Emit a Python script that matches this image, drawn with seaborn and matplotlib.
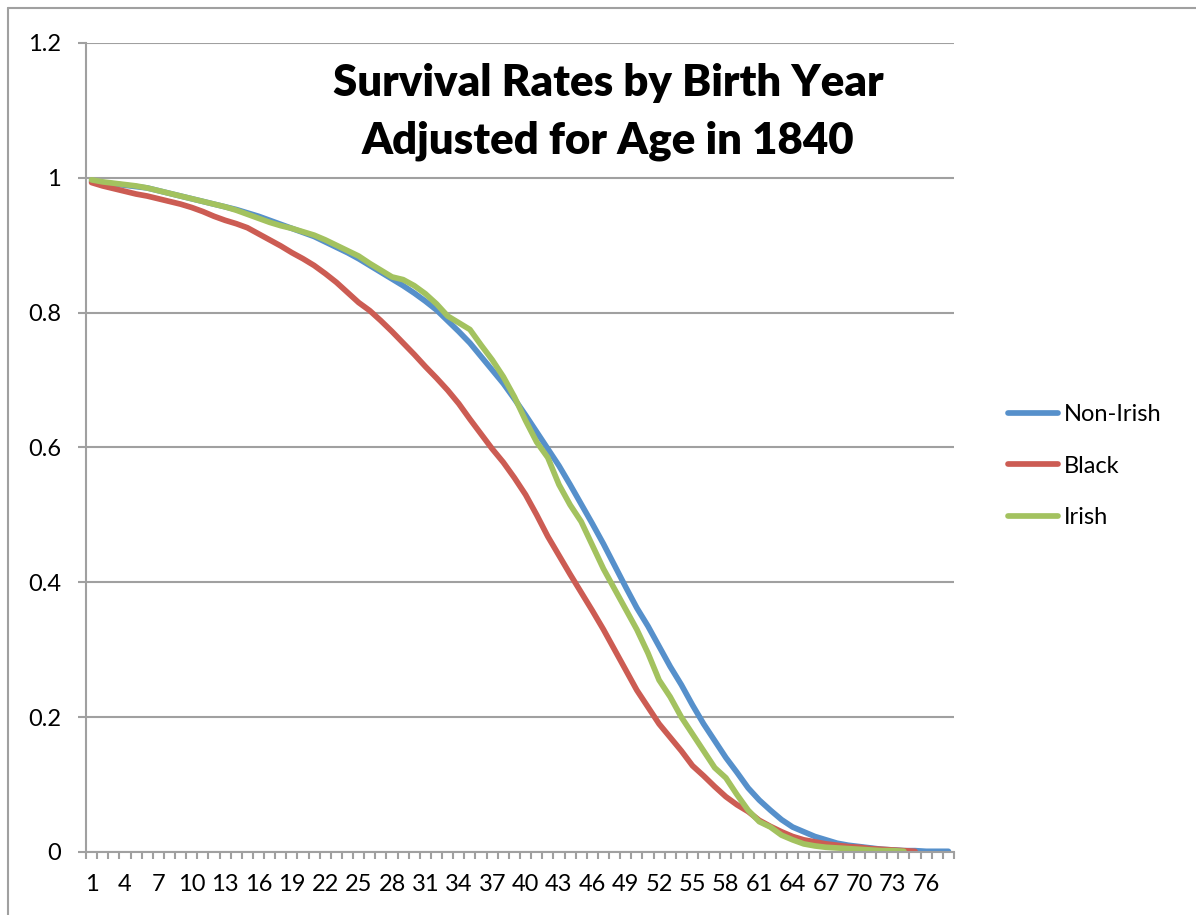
import numpy as np
import pandas as pd
import matplotlib
matplotlib.use("Agg")
import matplotlib.pyplot as plt
import seaborn as sns
from matplotlib.lines import Line2D

# Birth-year categories 1..78
years = list(range(1, 79))

non_irish = [0.995, 0.993, 0.991, 0.989, 0.987, 0.985, 0.981, 0.977, 0.973, 0.969,
             0.965, 0.961, 0.957, 0.953, 0.948, 0.943, 0.937, 0.931, 0.925, 0.919,
             0.913, 0.905, 0.897, 0.889, 0.880, 0.870, 0.860, 0.850, 0.840, 0.829,
             0.817, 0.804, 0.788, 0.772, 0.755, 0.735, 0.715, 0.695, 0.672, 0.648,
             0.623, 0.598, 0.573, 0.545, 0.516, 0.487, 0.457, 0.425, 0.393, 0.362,
             0.335, 0.305, 0.275, 0.248, 0.218, 0.190, 0.165, 0.140, 0.118, 0.095,
             0.077, 0.062, 0.048, 0.037, 0.030, 0.023, 0.018, 0.013, 0.010, 0.008,
             0.006, 0.004, 0.003, 0.002, 0.002, 0.001, 0.001, 0.001]

black = [0.993, 0.988, 0.984, 0.980, 0.976, 0.973, 0.969, 0.965, 0.961, 0.956,
         0.950, 0.943, 0.937, 0.932, 0.926, 0.917, 0.908, 0.899, 0.889, 0.880,
         0.870, 0.858, 0.845, 0.830, 0.815, 0.803, 0.788, 0.772, 0.755, 0.738,
         0.720, 0.703, 0.685, 0.665, 0.642, 0.620, 0.598, 0.578, 0.555, 0.530,
         0.500, 0.468, 0.440, 0.412, 0.385, 0.358, 0.330, 0.300, 0.270, 0.240,
         0.215, 0.190, 0.170, 0.150, 0.128, 0.113, 0.097, 0.082, 0.070, 0.060,
         0.047, 0.038, 0.030, 0.023, 0.018, 0.015, 0.012, 0.010, 0.008, 0.007,
         0.005, 0.004, 0.003, 0.002, 0.001, np.nan, np.nan, np.nan]

irish = [0.997, 0.994, 0.992, 0.990, 0.988, 0.985, 0.981, 0.977, 0.973, 0.969,
         0.965, 0.961, 0.957, 0.952, 0.946, 0.940, 0.934, 0.929, 0.925, 0.920,
         0.915, 0.908, 0.900, 0.892, 0.884, 0.873, 0.863, 0.853, 0.849, 0.840,
         0.828, 0.813, 0.795, 0.785, 0.775, 0.752, 0.730, 0.705, 0.675, 0.640,
         0.608, 0.585, 0.545, 0.515, 0.490, 0.455, 0.420, 0.390, 0.360, 0.330,
         0.295, 0.255, 0.230, 0.200, 0.175, 0.150, 0.125, 0.110, 0.085, 0.062,
         0.045, 0.037, 0.025, 0.018, 0.012, 0.009, 0.007, 0.006, 0.005, 0.004,
         0.003, 0.002, 0.002, 0.001, np.nan, np.nan, np.nan, np.nan]

series_names = ["Non-Irish", "Black", "Irish"]
colors = ["#5690CB", "#CC5C53", "#A3C25F"]

y_ticks = [0, 0.2, 0.4, 0.6, 0.8, 1.0, 1.2]
y_labels = ["0", "0.2", "0.4", "0.6", "0.8", "1", "1.2"]
x_label_ticks = list(range(1, 77, 3))

title = "Survival Rates by Birth Year\nAdjusted for Age in 1840"

W, H = 1196, 915
GRAY = "#a0a0a0"


def main():
    sns.set_style("white")
    plt.rcParams['font.family'] = ['Lato', 'DejaVu Sans']
    plt.rcParams['text.color'] = 'black'
    plt.rcParams['xtick.color'] = 'black'
    plt.rcParams['ytick.color'] = 'black'

    df = pd.DataFrame({"year": years, "Non-Irish": non_irish,
                       "Black": black, "Irish": irish})
    long_df = df.melt(id_vars="year", var_name="group", value_name="rate").dropna()

    fig = plt.figure(figsize=(W / 100, H / 100), dpi=100)
    ax = fig.add_axes([86 / W, 1 - 852 / H, (954 - 86) / W, (852 - 43) / H])

    sns.lineplot(data=long_df, x="year", y="rate", hue="group",
                 hue_order=series_names, palette=colors, linewidth=4.1,
                 solid_capstyle="round", ax=ax, legend=False)

    ax.set_xlim(0.5, 78.5)
    ax.set_ylim(0, 1.2)
    ax.set_xlabel("")
    ax.set_ylabel("")

    # y axis: gridlines + outside ticks
    ax.set_yticks(y_ticks)
    ax.set_yticklabels(y_labels)
    ax.yaxis.grid(True, color=GRAY, linewidth=1.5)
    ax.set_axisbelow(True)
    ax.tick_params(axis="y", length=6, width=1.5, color=GRAY, pad=12,
                   labelsize=17, labelcolor="black", direction="out", left=True)

    # x axis: labels every 3, small ticks between categories
    ax.set_xticks(x_label_ticks)
    ax.set_xticklabels([str(v) for v in x_label_ticks])
    ax.set_xticks(np.arange(0.5, 79, 1.0), minor=True)
    ax.tick_params(axis="x", which="major", length=0, pad=16, labelsize=17,
                   labelcolor="black")
    ax.tick_params(axis="x", which="minor", length=5, width=1.5, color=GRAY,
                   direction="out", bottom=True)

    for side in ["top", "right"]:
        ax.spines[side].set_visible(False)
    for side in ["left", "bottom"]:
        ax.spines[side].set_color(GRAY)
        ax.spines[side].set_linewidth(1.5)

    # title
    fig.text(608 / W, 1 - 112 / H, title, ha="center", va="center",
             fontsize=31.5, fontweight="heavy", linespacing=1.55)

    # legend
    handles = [Line2D([0], [0], color=c, linewidth=4.1, solid_capstyle="round")
               for c in colors]
    fig.legend(handles, series_names, loc="center left",
               bbox_to_anchor=(1008 / W, 1 - 466 / H), frameon=False,
               fontsize=17, handlelength=2.1, handletextpad=0.25,
               labelspacing=1.3, borderpad=0, borderaxespad=0)

    # chart-area frame (top and left edge visible)
    fig.add_artist(Line2D([8 / W, 8 / W], [0, 1 - 8 / H], color=GRAY,
                          linewidth=1.5, transform=fig.transFigure))
    fig.add_artist(Line2D([8 / W, 1], [1 - 8 / H, 1 - 8 / H], color=GRAY,
                          linewidth=1.5, transform=fig.transFigure))

    fig.savefig("out.png", dpi=100)
    plt.close(fig)


if __name__ == "__main__":
    main()
